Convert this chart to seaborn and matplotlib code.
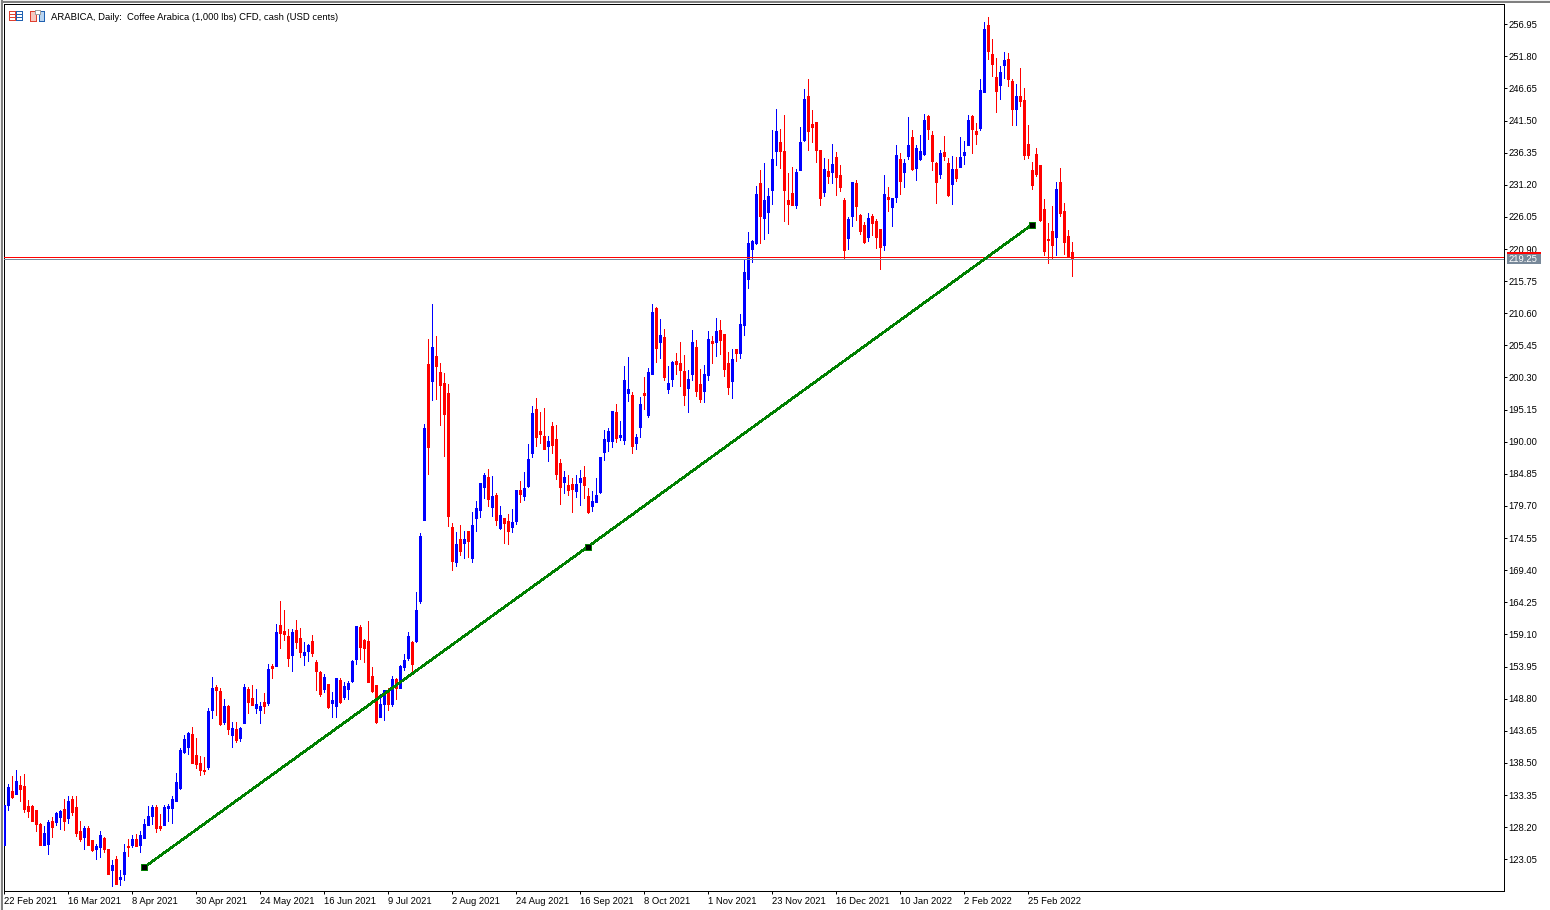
import matplotlib
matplotlib.use("Agg")
import matplotlib.pyplot as plt
from matplotlib.patches import Rectangle
import pandas as pd
import seaborn as sns

# Daily OHLC candles, oldest first (USD cents). U = close above open, D = close below open.
directions = (
    "UUDUDDDDDD" "UUDUUDUDDD" "UDDUUDDUDU" "UDUDUUUUDD" "UUUUUUUDDD"
    "DUUDDUDUDU" "UDDUUDUDUD" "DDUDDUUDDD" "UDUUDUUUUD" "DDDDUUDUDU"
    "UUDUUUDUDD" "DDDUDUDUUU" "UDUDUDDUUD" "UUUDDDUDDD" "UDDUUDDUUU"
    "UUUDUUUDUU" "DUUDUDUUDD" "DUUDDUUDUD" "DDUDUUUUUD" "UUUUDDDDUU"
    "UDDDDUDUDD" "DUUDDDUDDD" "UDUUDUUDUU" "UDDDUDDUDU" "UUDDUUDDDU"
    "UDDUDDDDDD" "DDDUDDDD"
)
highs = [
    131.71, 135.18, 136.36, 137.32, 136.36, 136.68, 132.51, 131.71, 130.91, 128.82,
    128.34, 129.30, 129.79, 130.59, 130.91, 132.67, 133.15, 133.15, 133.15, 129.14,
    128.34, 128.34, 126.10, 125.46, 127.54, 126.58, 124.65, 122.89, 123.53, 121.29,
    125.46, 126.26, 126.90, 127.06, 127.54, 129.46, 131.55, 131.71, 131.71, 130.27,
    131.71, 131.87, 133.15, 136.84, 140.85, 142.93, 143.41, 144.22, 142.45, 139.57,
    139.41, 147.26, 152.23, 150.95, 150.47, 148.71, 147.75, 145.02, 145.02, 144.22,
    151.11, 150.63, 150.95, 150.31, 148.23, 149.67, 154.32, 154.32, 160.74, 164.42,
    162.98, 159.93, 159.93, 161.38, 160.09, 157.85, 157.53, 158.97, 154.96, 153.20,
    152.72, 151.11, 149.83, 152.08, 152.08, 151.43, 151.59, 154.96, 160.41, 160.57,
    158.33, 161.22, 153.84, 150.95, 149.51, 150.15, 150.47, 152.40, 152.08, 154.16,
    155.92, 159.45, 158.01, 165.87, 175.33, 192.80, 206.43, 212.05, 206.92, 202.59,
    200.98, 199.20, 176.93, 175.49, 176.61, 175.65, 175.65, 178.69, 180.46, 183.34,
    184.95, 185.59, 184.47, 181.74, 179.66, 177.73, 178.37, 179.18, 182.22, 183.67,
    185.11, 189.60, 195.69, 196.97, 194.73, 195.37, 190.88, 193.13, 192.64, 187.19,
    185.27, 184.63, 184.15, 184.63, 185.43, 186.07, 182.54, 182.06, 184.15, 187.51,
    191.84, 192.16, 194.89, 196.01, 193.29, 202.11, 203.56, 197.94, 191.21, 197.14,
    200.35, 201.79, 212.05, 211.57, 209.65, 208.05, 202.11, 202.91, 204.20, 205.96,
    203.88, 201.47, 207.88, 206.28, 201.63, 202.27, 207.72, 206.92, 209.81, 209.49,
    207.24, 204.36, 204.84, 204.84, 210.45, 219.11, 223.59, 222.31, 230.97, 233.53,
    234.66, 230.65, 239.95, 243.32, 240.11, 242.35, 233.05, 234.02, 233.70, 240.43,
    246.52, 248.13, 243.16, 241.23, 236.74, 235.46, 235.30, 237.70, 236.42, 234.34,
    229.05, 226.00, 231.61, 231.93, 226.48, 225.20, 226.64, 226.48, 225.68, 224.07,
    232.73, 230.81, 229.05, 237.55, 236.27, 235.31, 242.04, 239.96, 237.55, 239.16,
    242.52, 242.36, 239.80, 234.83, 236.75, 239.00, 235.47, 235.79, 235.63, 238.84,
    238.19, 242.36, 242.36, 241.08, 248.14, 257.28, 258.08, 254.55, 251.50, 250.22,
    252.47, 252.30, 248.14, 247.33, 249.90, 246.69, 240.76, 234.83, 237.07, 234.35,
    228.89, 225.05, 227.77, 231.62, 233.86, 228.25, 223.92, 222.00,
]
body_tops = [
    131.71, 134.60, 133.95, 135.56, 134.92, 134.76, 131.55, 131.55, 130.91, 128.66,
    127.22, 128.98, 129.14, 130.43, 130.75, 131.07, 132.35, 132.67, 131.39, 127.54,
    128.02, 128.02, 126.10, 125.14, 126.90, 126.42, 124.65, 122.09, 123.05, 120.16,
    124.17, 125.14, 126.26, 126.26, 126.90, 128.66, 129.95, 131.39, 131.39, 128.34,
    131.39, 131.55, 132.67, 135.40, 140.53, 142.29, 143.25, 143.09, 139.73, 138.44,
    137.32, 146.78, 150.47, 150.63, 149.99, 147.58, 147.58, 144.06, 143.90, 144.06,
    150.63, 150.31, 148.87, 147.91, 147.58, 148.23, 153.52, 154.00, 159.45, 160.57,
    159.61, 158.81, 159.45, 159.77, 158.49, 156.24, 157.37, 158.01, 154.64, 153.04,
    152.23, 151.11, 148.55, 152.08, 151.76, 150.79, 151.27, 154.80, 160.41, 160.25,
    158.17, 158.01, 152.40, 150.95, 147.91, 150.15, 150.15, 151.92, 151.92, 154.00,
    154.96, 158.81, 157.85, 162.98, 174.85, 192.16, 202.43, 205.15, 203.71, 201.14,
    199.38, 197.78, 176.29, 173.56, 174.36, 174.36, 175.65, 176.61, 179.34, 183.34,
    184.63, 184.31, 181.26, 181.42, 178.21, 177.73, 177.25, 177.09, 182.22, 182.22,
    182.54, 187.19, 194.57, 195.21, 191.68, 190.88, 190.08, 192.48, 190.40, 186.55,
    184.31, 183.02, 183.18, 183.18, 184.15, 184.31, 181.26, 180.46, 181.42, 187.51,
    190.40, 191.68, 194.89, 194.73, 191.05, 199.87, 198.42, 197.46, 190.73, 196.02,
    197.78, 201.15, 210.77, 211.41, 207.08, 206.76, 199.39, 202.75, 202.91, 202.59,
    201.31, 200.03, 205.96, 205.16, 199.23, 200.83, 206.44, 206.12, 207.72, 207.88,
    207.24, 202.59, 203.24, 204.84, 208.85, 217.19, 221.83, 222.15, 229.69, 231.45,
    228.72, 229.37, 235.30, 239.79, 238.02, 236.58, 228.72, 229.85, 233.21, 238.02,
    244.92, 245.40, 240.91, 241.23, 236.74, 233.70, 233.38, 234.50, 235.62, 232.73,
    228.72, 225.68, 231.61, 231.45, 226.32, 224.72, 225.84, 226.16, 225.36, 224.07,
    229.69, 229.21, 229.05, 235.95, 235.31, 234.67, 237.55, 238.84, 237.07, 236.59,
    241.56, 242.20, 239.16, 234.67, 236.27, 236.43, 234.67, 233.70, 233.70, 235.63,
    236.43, 241.56, 242.20, 239.80, 246.37, 256.15, 256.79, 252.14, 248.46, 249.26,
    251.18, 251.34, 247.82, 245.41, 245.41, 244.77, 237.71, 233.54, 236.11, 234.35,
    227.29, 222.48, 223.76, 230.50, 231.62, 226.97, 222.96, 220.40,
]
body_bottoms = [
    125.40, 131.71, 132.99, 133.47, 134.28, 131.07, 130.75, 129.14, 128.72, 125.30,
    125.30, 125.46, 128.18, 128.98, 129.79, 129.14, 129.62, 130.59, 127.22, 126.26,
    126.58, 125.30, 124.49, 124.65, 124.98, 124.65, 120.64, 121.29, 119.04, 119.84,
    120.64, 124.98, 125.30, 125.14, 125.30, 126.42, 128.50, 129.95, 128.02, 128.02,
    128.50, 131.23, 131.23, 132.35, 134.43, 140.21, 141.01, 138.44, 138.28, 137.32,
    137.16, 137.80, 146.94, 150.15, 144.70, 145.02, 143.90, 142.94, 142.13, 142.46,
    144.86, 148.23, 147.75, 147.27, 146.94, 147.58, 148.07, 153.68, 154.00, 159.29,
    159.13, 155.28, 155.76, 157.85, 156.24, 155.76, 156.40, 156.08, 153.20, 149.51,
    150.31, 147.43, 148.07, 147.58, 148.23, 149.03, 150.31, 151.59, 155.12, 157.05,
    156.89, 151.43, 149.99, 145.02, 145.82, 147.91, 147.91, 147.91, 150.47, 150.47,
    153.84, 155.28, 154.32, 158.01, 164.42, 177.41, 189.12, 199.70, 202.10, 199.06,
    194.41, 178.05, 170.84, 170.68, 172.44, 173.72, 174.04, 171.32, 177.73, 179.02,
    182.70, 180.78, 179.50, 177.41, 176.13, 176.93, 175.65, 176.29, 177.25, 181.58,
    181.26, 182.86, 188.15, 190.72, 191.20, 188.80, 189.28, 189.44, 184.79, 182.70,
    183.51, 182.22, 182.38, 182.06, 183.51, 183.02, 178.69, 179.66, 180.30, 181.90,
    188.31, 190.08, 190.08, 190.56, 190.73, 190.25, 197.78, 189.28, 189.76, 192.33,
    197.46, 194.26, 200.83, 205.00, 205.96, 200.35, 198.42, 200.03, 202.43, 201.47,
    197.46, 198.59, 200.83, 198.10, 196.82, 198.10, 200.67, 205.80, 205.96, 206.28,
    201.63, 198.75, 199.71, 204.20, 204.20, 208.69, 216.06, 220.87, 221.83, 226.16,
    225.84, 226.80, 230.33, 236.58, 236.58, 230.33, 228.08, 227.92, 227.92, 233.53,
    238.35, 239.79, 240.43, 236.74, 229.05, 230.01, 232.57, 233.21, 232.41, 230.81,
    220.71, 222.63, 226.16, 227.76, 223.75, 221.99, 222.79, 225.04, 222.79, 221.19,
    221.51, 228.89, 227.60, 229.22, 231.78, 233.22, 235.79, 233.70, 233.86, 235.31,
    236.11, 240.12, 234.99, 231.62, 232.90, 235.79, 229.54, 231.30, 232.26, 234.03,
    235.95, 237.55, 240.12, 239.32, 240.28, 246.05, 252.63, 250.54, 246.21, 247.17,
    250.38, 248.14, 243.33, 243.33, 244.61, 235.95, 235.95, 231.14, 232.90, 225.53,
    220.56, 222.32, 221.52, 222.80, 226.65, 222.00, 219.59, 219.25,
]
lows = [
    125.40, 130.91, 132.83, 133.47, 132.35, 130.59, 129.79, 129.14, 127.54, 125.30,
    125.30, 123.85, 126.58, 128.50, 127.86, 127.70, 128.82, 130.11, 126.74, 125.94,
    124.65, 125.30, 124.33, 123.05, 123.37, 124.17, 120.64, 118.72, 119.04, 118.88,
    119.68, 123.53, 124.98, 125.14, 124.17, 126.42, 128.50, 128.66, 127.38, 127.70,
    128.50, 129.14, 128.82, 132.35, 134.27, 140.05, 139.89, 138.44, 137.64, 136.52,
    136.68, 137.48, 145.66, 146.14, 144.54, 144.70, 143.10, 141.01, 141.81, 141.97,
    144.86, 146.46, 147.75, 146.46, 144.86, 146.46, 147.75, 152.08, 154.00, 156.89,
    158.17, 154.00, 153.20, 156.89, 155.44, 154.16, 154.80, 155.60, 150.15, 149.19,
    149.83, 147.27, 145.82, 145.82, 148.07, 148.71, 148.71, 151.43, 154.32, 155.12,
    154.64, 151.43, 149.83, 144.86, 145.82, 145.34, 146.94, 147.58, 148.71, 150.47,
    153.36, 154.96, 153.20, 157.85, 164.10, 177.41, 184.79, 196.65, 196.81, 192.64,
    187.67, 176.45, 169.39, 170.03, 171.80, 171.32, 171.48, 170.68, 175.65, 177.89,
    180.94, 179.66, 178.05, 176.61, 175.97, 173.72, 173.56, 175.49, 176.77, 180.30,
    180.62, 182.70, 187.51, 189.28, 189.76, 188.80, 186.87, 188.15, 183.99, 179.98,
    181.74, 181.42, 178.69, 181.10, 179.82, 180.94, 178.53, 178.85, 180.30, 181.74,
    187.03, 188.47, 189.12, 189.92, 190.25, 189.60, 196.50, 188.16, 188.80, 190.73,
    195.22, 193.93, 200.83, 202.75, 203.40, 199.87, 197.78, 198.91, 200.83, 198.91,
    195.86, 194.74, 199.87, 197.30, 196.34, 196.34, 199.87, 202.59, 203.72, 204.04,
    200.51, 197.62, 196.98, 202.91, 203.40, 207.08, 214.62, 218.78, 221.67, 221.83,
    222.47, 223.43, 228.08, 234.34, 233.86, 225.36, 224.88, 227.92, 227.44, 233.53,
    238.19, 236.74, 238.02, 234.82, 227.92, 229.37, 231.45, 231.45, 229.53, 230.17,
    219.42, 220.87, 224.55, 225.52, 223.27, 221.83, 222.15, 223.11, 221.03, 217.66,
    220.71, 226.96, 224.55, 228.41, 229.70, 230.82, 235.31, 233.54, 231.94, 235.15,
    235.95, 238.51, 233.54, 228.25, 232.26, 235.15, 229.38, 228.09, 231.78, 234.03,
    234.51, 237.55, 236.27, 237.71, 239.96, 246.05, 251.34, 248.62, 242.84, 244.93,
    248.30, 247.01, 240.76, 240.76, 243.81, 235.31, 235.47, 230.50, 232.58, 225.37,
    219.92, 218.63, 219.27, 219.92, 226.17, 220.08, 219.59, 216.55,
]

date_labels = [
    "22 Feb 2021", "16 Mar 2021", "8 Apr 2021", "30 Apr 2021", "24 May 2021",
    "16 Jun 2021", "9 Jul 2021", "2 Aug 2021", "24 Aug 2021", "16 Sep 2021",
    "8 Oct 2021", "1 Nov 2021", "23 Nov 2021", "16 Dec 2021", "10 Jan 2022",
    "2 Feb 2022", "25 Feb 2022",
]
price_labels = [
    "256.95", "251.80", "246.65", "241.50", "236.35", "231.20", "226.05",
    "220.90", "215.75", "210.60", "205.45", "200.30", "195.15", "190.00",
    "184.85", "179.70", "174.55", "169.40", "164.25", "159.10", "153.95",
    "148.80", "143.65", "138.50", "133.35", "128.20", "123.05",
]
trend_bars = [35, 146, 257]
trend_prices = [121.77, 173.20, 224.83]
bid_price = 219.25
ask_price = 219.57
title_text = "ARABICA, Daily:  Coffee Arabica (1,000 lbs) CFD, cash (USD cents)"

W, H = 1550, 910
DPI = 100
PX = 72 / DPI  # one pixel in points

sns.set_theme(style="white")
plt.rcParams["font.family"] = ["Liberation Sans", "DejaVu Sans"]
plt.rcParams["text.hinting"] = "native"

fig = plt.figure(figsize=(W / DPI, H / DPI), dpi=DPI, facecolor="white")
ax = fig.add_axes([4.2 / W, (H - 891.2) / H, 1500 / W, 887 / H])
ax.set_facecolor("white")


def pixel_rect(x, y, w, h, color, **kw):
    """Figure-level rectangle placed in pixel units from the top-left corner."""
    fig.add_artist(Rectangle((x / W, 1 - (y + h) / H), w / W, h / H,
                             transform=fig.transFigure, facecolor=color,
                             edgecolor="none", **kw))


# Long-form tables: one two-point segment per candle
bars = range(len(highs))
wicks = pd.DataFrame({
    "bar": list(bars) * 2,
    "price": highs + lows,
    "dir": list(directions) * 2,
})
bodies = pd.DataFrame({
    "bar": list(bars) * 2,
    "price": body_tops + body_bottoms,
    "dir": list(directions) * 2,
})
palette = {"U": "#0000ff", "D": "#ff0000"}

sns.lineplot(data=wicks, x="bar", y="price", hue="dir", units="bar", estimator=None,
             palette=palette, legend=False, sort=False, ax=ax, linewidth=1.0 * PX,
             solid_capstyle="butt", antialiased=False, zorder=2)
sns.lineplot(data=bodies, x="bar", y="price", hue="dir", units="bar", estimator=None,
             palette=palette, legend=False, sort=False, ax=ax, linewidth=3.0 * PX,
             solid_capstyle="butt", antialiased=False, zorder=3)

# Ask and bid levels
ax.axhline(ask_price, color="#ff0000", linewidth=1.0 * PX, antialiased=False, zorder=4)
ax.axhline(bid_price, color="#778899", linewidth=1.0 * PX, antialiased=False, zorder=4)

# Trend line with its three anchors
sns.lineplot(x=trend_bars, y=trend_prices, color="#008000", linewidth=1.6 * PX,
             estimator=None, sort=False, antialiased=False, ax=ax, zorder=5)
sns.scatterplot(x=trend_bars, y=trend_prices, marker="s", s=(6.0 * PX) ** 2,
                color="#000000", edgecolor="#008000", linewidth=1.0 * PX, ax=ax, zorder=6)

ax.set_xlim(0, 375)
ax.set_ylim(117.93, 260.157)
ax.set_xlabel("")
ax.set_ylabel("")

for side, spine in ax.spines.items():
    spine.set_visible(True)
    spine.set_color("#000000")
    spine.set_linewidth(1.0 * PX)

ax.yaxis.tick_right()
price_ticks = [float(v) for v in price_labels]
ax.set_yticks(price_ticks)
ax.set_yticklabels(price_labels)
ax.set_xticks(list(range(0, 16 * len(date_labels), 16)))
ax.set_xticklabels(date_labels, ha="left")
ax.tick_params(axis="y", which="major", direction="out", length=3 * PX, width=1 * PX,
               color="#000000", labelsize=6.85, labelcolor="#000000", pad=1.0, right=True)
ax.tick_params(axis="x", which="major", direction="out", length=3 * PX, width=1 * PX,
               color="#000000", labelsize=6.85, labelcolor="#000000", pad=1.7, bottom=True)

# Window chrome: thin gray borders along the top and left
pixel_rect(0, 0, W, 1, "#f0f0f0", zorder=10)
pixel_rect(0, 1, W, 2, "#808080", zorder=10)
pixel_rect(1, 0, 2, H, "#808080", zorder=10)
pixel_rect(0, 0, 1, H, "#f0f0f0", zorder=10)

# Ask strip and bid label on the price scale
pixel_rect(1507, 252, 34, 2, "#ff0000", zorder=10)
pixel_rect(1507, 254, 34, 10, "#778899", zorder=10)
fig.text(1508.5 / W, 1 - 259.5 / H, f"{bid_price:.2f}", color="white", fontsize=6.85,
         ha="left", va="center", zorder=11)

# Chart-header icons
pixel_rect(9, 11, 14, 10, "#e04030", zorder=10)
pixel_rect(10, 12, 5, 8, "white", zorder=11)
pixel_rect(16, 11, 7, 10, "#2060b0", zorder=10)
pixel_rect(17, 12, 5, 8, "white", zorder=11)
for row_y in (14, 17):
    pixel_rect(10, row_y, 5, 1, "#e04030", zorder=12)
    pixel_rect(17, row_y, 5, 1, "#2060b0", zorder=12)
pixel_rect(30, 11, 7, 11, "#e04030", zorder=10)
pixel_rect(31, 12, 5, 9, "#f6c8c0", zorder=11)
pixel_rect(39, 11, 6, 11, "#2060b0", zorder=10)
pixel_rect(40, 12, 4, 9, "#b8d4f0", zorder=11)
pixel_rect(35, 10, 6, 5, "#a0a0a0", zorder=12)
pixel_rect(36, 11, 4, 3, "white", zorder=13)

fig.text(51 / W, 1 - 17.0 / H, title_text, color="#000000", fontsize=6.85,
         ha="left", va="center", zorder=10)

fig.savefig("out.png", dpi=DPI, facecolor="white")
